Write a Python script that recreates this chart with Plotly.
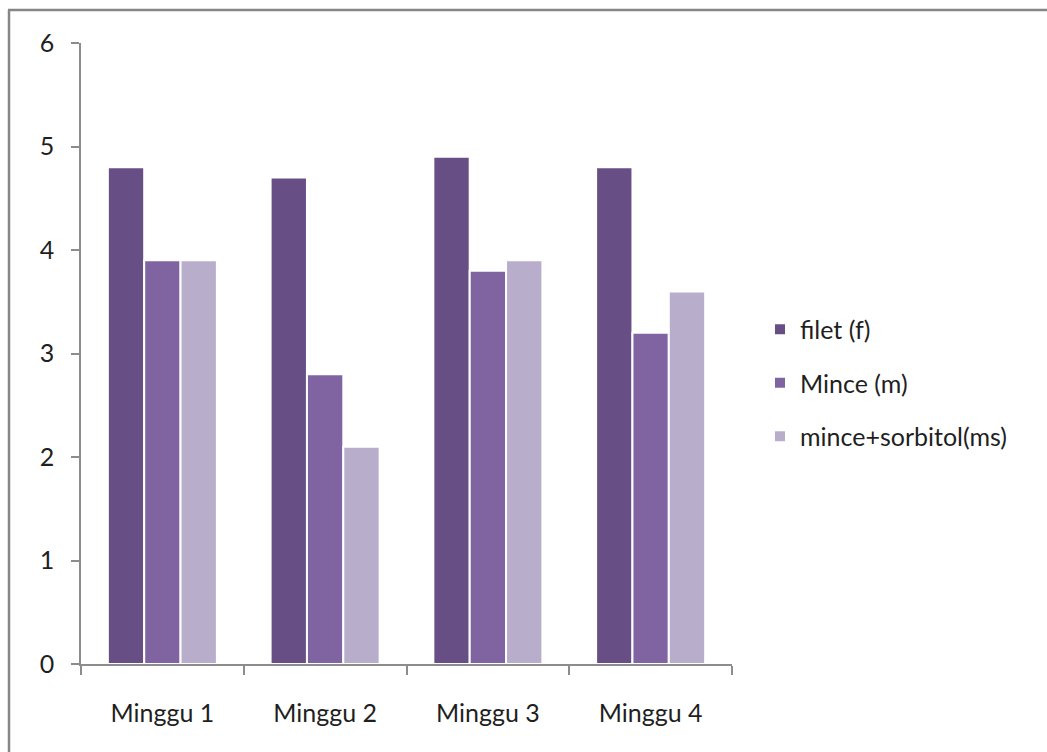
import plotly.graph_objects as go

# Weekly scores for three sample preparations
weeks = ["Minggu 1", "Minggu 2", "Minggu 3", "Minggu 4"]
filet = [4.8, 4.7, 4.9, 4.8]
mince = [3.9, 2.8, 3.8, 3.2]
mince_sorbitol = [3.9, 2.1, 3.9, 3.6]
y_ticks = [0, 1, 2, 3, 4, 5, 6]

series_names = ["filet (f)", "Mince (m)", "mince+sorbitol(ms)"]
series_values = [filet, mince, mince_sorbitol]
series_colors = ["#674F86", "#8064A2", "#B8AECC"]

FONT = "Lato, 'Open Sans', sans-serif"
FS = 25
TEXT_COLOR = "#1F1F1F"
AXIS_COLOR = "#8C8C8C"

fig = go.Figure()
for i, (name, vals, col) in enumerate(zip(series_names, series_values, series_colors)):
    fig.add_trace(go.Bar(
        x=weeks, y=vals, name=name,
        legendgroup=f"g{i}",
        marker=dict(color=col, line=dict(color="white", width=2)),
    ))

W, H = 1047, 752
ml, mr, mt, mb = 81, 315, 43, 88
pw, ph = W - ml - mr, H - mt - mb

def px_x(p):
    return (p - ml) / pw

def px_y(p):
    return (H - mb - p) / ph

fig.update_layout(
    width=W, height=H,
    margin=dict(l=ml, r=mr, t=mt, b=mb),
    paper_bgcolor="white", plot_bgcolor="white",
    barmode="group", bargap=0.33, bargroupgap=0,
    font=dict(family=FONT, size=FS, color=TEXT_COLOR),
    showlegend=True,
    legend=dict(
        x=px_x(760), y=px_y(383), xanchor="left", yanchor="middle",
        font=dict(family=FONT, size=FS, color=TEXT_COLOR),
        traceorder="grouped", tracegroupgap=18,
        bgcolor="rgba(0,0,0,0)",
    ),
    xaxis=dict(
        type="category", showgrid=False, showline=True,
        linecolor=AXIS_COLOR, linewidth=1.5,
        ticks="outside", ticklen=9, tickcolor=AXIS_COLOR, tickwidth=1.5,
        tickson="boundaries", ticklabelstandoff=26,
        tickfont=dict(family=FONT, size=FS, color=TEXT_COLOR),
    ),
    yaxis=dict(
        range=[0, 6], tickvals=y_ticks, showgrid=False, zeroline=False,
        showline=True, linecolor=AXIS_COLOR, linewidth=1.5,
        ticks="outside", ticklen=8, tickcolor=AXIS_COLOR, tickwidth=1.5,
        ticklabelstandoff=12,
        tickfont=dict(family=FONT, size=FS, color=TEXT_COLOR),
    ),
    shapes=[
        # chart area frame (left and top edges)
        dict(type="line", xref="paper", yref="paper",
             x0=px_x(9), x1=px_x(9), y0=px_y(760), y1=px_y(10),
             line=dict(color="#868686", width=2.5)),
        dict(type="line", xref="paper", yref="paper",
             x0=px_x(8), x1=px_x(1060), y0=px_y(10), y1=px_y(10),
             line=dict(color="#868686", width=2.5)),
    ],
)

fig.write_html("out.html")
